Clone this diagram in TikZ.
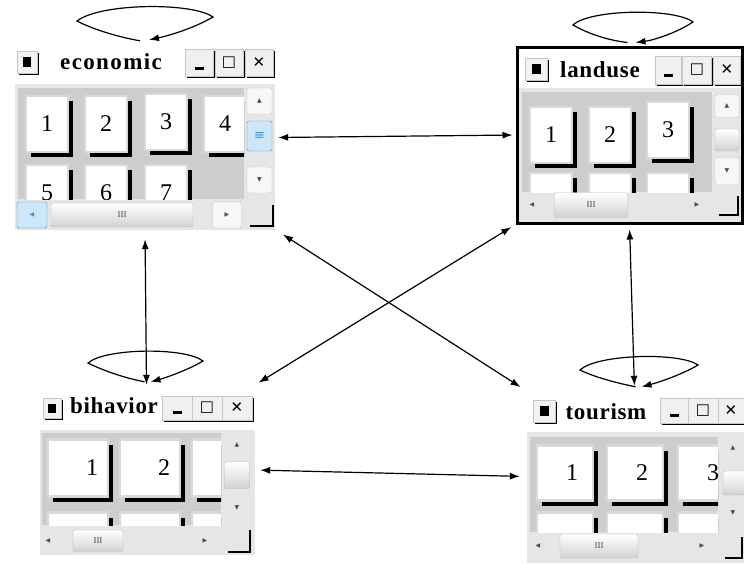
\documentclass[tikz,border=0pt]{standalone}
\usepackage{fontspec}
\setmainfont{Liberation Serif}
\newfontfamily\symfont{DejaVu Sans}
\usetikzlibrary{shadows,arrows.meta}
\definecolor{winbg}{HTML}{E6E6E6}
\definecolor{padbg}{HTML}{CDCDCD}
\definecolor{selfill}{HTML}{CDE7F8}
\definecolor{seldraw}{HTML}{3D8DCA}

\tikzset{
  win/.style={inner sep=0pt},
  wtitle/.style={inner sep=0pt, font=\fontsize{23}{23}\selectfont\bfseries\addfontfeatures{LetterSpace=3}},
  icon/.style={draw=gray!45, fill=gray!10, inner sep=0pt, minimum width=20, minimum height=22,
    general shadow={fill=black, shadow xshift=1.6pt, shadow yshift=-1.6pt}},
  tbtn/.style={draw=gray!45, fill=gray!12, inner sep=0pt, minimum width=28, minimum height=27,
    general shadow={fill=black, shadow xshift=1.6pt, shadow yshift=-1.6pt},
    font=\symfont\fontsize{15}{15}\selectfont},
  key/.style={draw=gray!30, line width=2.5pt, fill=white, inner sep=0pt, minimum width=42, minimum height=56,
    general shadow={fill=black, shadow xshift=5pt, shadow yshift=-5pt},
    font=\fontsize{24}{24}\selectfont},
  bkey/.style={key, minimum width=60, minimum height=57, text width=40, align=right},
  tkey/.style={key, minimum width=56, minimum height=55, text width=26, align=right},
  sbtn/.style={draw=gray!45, fill=gray!6, rounded corners=1.5pt, inner sep=0pt,
    minimum width=25, minimum height=26, font=\symfont\fontsize{6}{6}\selectfont, text=gray!60!black},
  sglyph/.style={inner sep=0pt, font=\symfont\fontsize{6}{6}\selectfont, text=gray!60!black},
  thumb/.style={draw=gray!55, top color=white, bottom color=gray!35, rounded corners=2pt,
    inner sep=0pt, font=\fontsize{9}{9}\selectfont, text=gray!60!black},
  selthumb/.style={draw=seldraw, fill=selfill, rounded corners=1.5pt, inner sep=0pt,
    text=seldraw, font=\symfont\fontsize{13}{13}\selectfont},
  grip/.style={line width=2pt},
  link/.style={{Latex[length=10pt,width=7pt]}-{Latex[length=10pt,width=7pt]}, line width=1.2pt},
  selfloop/.style={-{Latex[length=10pt,width=7pt]}, line width=1.2pt}
}

\begin{document}
\begin{tikzpicture}[x=1pt, y=-1pt]
\useasboundingbox (0,0) rectangle (744,563);

% economic
\node[win, minimum width=262, minimum height=185] (eco) at (145,137.5) {};
\fill[winbg] (15,84) rectangle (275,230);
\node[icon] (ecoIcon) at (27,62) {\rule{9pt}{10pt}};
\node[wtitle, font=\fontsize{23}{23}\selectfont\bfseries\addfontfeatures{LetterSpace=6}] (ecoTitle) at (111,62) {economic};
\node[tbtn] (ecoMin) at (199,63) {\smash{\raisebox{-7pt}{\rule{9pt}{3pt}}}};
\node[tbtn] (ecoMax) at (229,63) {□};
\node[tbtn] (ecoClose) at (259,63) {✕};
\fill[padbg] (18,88) rectangle (244,199);
\begin{scope}
  \clip (18,88) rectangle (244,199);
  \node[key] (eco1) at (47,124) {1};
  \node[key] (eco2) at (106,124) {2};
  \node[key] (eco3) at (166,122) {3};
  \node[key] (eco4) at (225,124) {4};
  \node[key] (eco5) at (47,193) {5};
  \node[key] (eco6) at (106,193) {6};
  \node[key] (eco7) at (166,193) {7};
\end{scope}
\node[sbtn] (ecoUp) at (259.5,101) {▲};
\node[selthumb, minimum width=25, minimum height=30] (ecoThumbV) at (259.5,136) {≡};
\node[sbtn] (ecoDown) at (259.5,180) {▼};
\node[selthumb, minimum width=30, minimum height=26, font=\symfont\fontsize{6}{6}\selectfont] (ecoLeft) at (32,215) {◀};
\node[thumb, minimum width=142, minimum height=24] (ecoThumbH) at (122,215) {III};
\node[sbtn, minimum width=29] (ecoRight) at (227,215) {▶};
\draw[grip] (250,226) -- (273,226) -- (273,205);

% landuse
\fill[white] (517,47) rectangle (742,88);
\fill[winbg] (517,88) rectangle (742,223);
\node[icon, minimum width=22] (landIcon) at (536,69) {\rule{9pt}{10pt}};
\node[wtitle] (landTitle) at (600,70) {landuse};
\node[tbtn, minimum width=26, minimum height=28] (landMin) at (668,70) {\smash{\raisebox{-7pt}{\rule{9pt}{3pt}}}};
\node[tbtn, minimum width=29, minimum height=28] (landMax) at (697,70) {□};
\node[tbtn, minimum width=27, minimum height=28] (landClose) at (727,70) {✕};
\fill[padbg] (522,92) rectangle (712,192);
\begin{scope}
  \clip (522,92) rectangle (712,192);
  \node[key] (land1) at (551,135) {1};
  \node[key] (land2) at (610,135) {2};
  \node[key] (land3) at (668,130) {3};
  \node[key] (land4) at (551,201) {};
  \node[key] (land5) at (610,201) {};
  \node[key] (land6) at (668,201) {};
\end{scope}
\node[sbtn, minimum width=24, minimum height=23] (landUp) at (727,106) {▲};
\node[thumb, minimum width=24, minimum height=22] (landThumbV) at (727,140) {};
\node[sbtn, minimum width=24, minimum height=27] (landDown) at (727,171) {▼};
\node[sglyph] (landLeft) at (532,205) {◀};
\node[thumb, minimum width=73, minimum height=25] (landThumbH) at (591,205) {III};
\node[sglyph] (landRight) at (697,205) {▶};
\draw[grip] (719,215) -- (738,215) -- (738,196);
\node[win, draw, line width=3pt, minimum width=225, minimum height=176] (land) at (629.5,135) {};

% bihavior
\node[win, minimum width=217, minimum height=170] (bih) at (146.5,470) {};
\fill[winbg] (40,430) rectangle (255,555);
\node[icon, minimum width=18, minimum height=20] (bihIcon) at (52,408) {\rule{8pt}{9pt}};
\node[wtitle] (bihTitle) at (114,406) {bihavior};
\node[tbtn, minimum width=30, minimum height=24] (bihMin) at (177,408) {\smash{\raisebox{-6pt}{\rule{9pt}{3pt}}}};
\node[tbtn, minimum width=30, minimum height=24] (bihMax) at (207,408) {□};
\node[tbtn, minimum width=30, minimum height=24] (bihClose) at (237,408) {✕};
\fill[padbg] (42,433) rectangle (221,525);
\begin{scope}
  \clip (42,433) rectangle (221,525);
  \node[bkey] (bih1) at (78,468) {1};
  \node[bkey] (bih2) at (150,468) {2};
  \node[bkey] (bih3) at (222,468) {};
  \node[bkey] (bih4) at (78,541) {};
  \node[bkey] (bih5) at (150,541) {};
  \node[bkey] (bih6) at (222,541) {};
\end{scope}
\node[sglyph] (bihUp) at (237,445) {▲};
\node[thumb, minimum width=25, minimum height=27] (bihThumbV) at (237,475) {};
\node[sglyph] (bihDown) at (237,508) {▼};
\node[sglyph] (bihLeft) at (48,541) {◀};
\node[thumb, minimum width=50, minimum height=22] (bihThumbH) at (98,541) {III};
\node[sglyph] (bihRight) at (205,541) {▶};
\draw[grip] (228,552) -- (250,552) -- (250,530);

% tourism
\node[win, minimum width=219, minimum height=173] (tour) at (634.5,476.5) {};
\fill[winbg] (527,432) rectangle (744,563);
\node[icon, minimum width=22] (tourIcon) at (544,411) {\rule{9pt}{10pt}};
\node[wtitle] (tourTitle) at (606,412) {tourism};
\node[tbtn, minimum width=28, minimum height=25] (tourMin) at (674,411) {\smash{\raisebox{-6pt}{\rule{9pt}{3pt}}}};
\node[tbtn, minimum width=30, minimum height=25] (tourMax) at (703,411) {□};
\node[tbtn, minimum width=26, minimum height=25] (tourClose) at (731,411) {✕};
\fill[padbg] (530,437) rectangle (718,532);
\begin{scope}
  \clip (530,437) rectangle (718,532);
  \node[tkey] (tour1) at (565,473) {1};
  \node[tkey] (tour2) at (635,473) {2};
  \node[tkey] (tour3) at (706,473) {3};
  \node[tkey] (tour4) at (565,540) {};
  \node[tkey] (tour5) at (635,540) {};
  \node[tkey] (tour6) at (706,540) {};
\end{scope}
\node[sglyph] (tourUp) at (733,448) {▲};
\node[thumb, minimum width=22, minimum height=24] (tourThumbV) at (734,483) {};
\node[sglyph] (tourDown) at (733,513) {▼};
\node[sglyph] (tourLeft) at (538,546) {◀};
\node[thumb, minimum width=78, minimum height=24] (tourThumbH) at (599,546) {III};
\node[sglyph] (tourRight) at (702,546) {▶};
\draw[grip] (725,558) -- (742,558) -- (742,537);

% self loops
\draw[selfloop] ([xshift=-5pt,yshift=4pt]eco.north) .. controls (118,37) and (92,29) .. (77,21)
  .. controls (100,3) and (192,2) .. (213,17) .. controls (196,27) and (172,35) .. ([xshift=4pt,yshift=5pt]eco.north);
\draw[selfloop] ([xshift=-2pt,yshift=3pt]land.north) .. controls (605,40) and (585,32) .. (573,25)
  .. controls (590,9) and (675,8) .. (693,22) .. controls (678,32) and (655,40) .. ([xshift=6pt,yshift=3pt]land.north);
\draw[selfloop] ([xshift=-2pt,yshift=3pt]bih.north) .. controls (120,377) and (100,369) .. (88,363)
  .. controls (105,348) and (185,347) .. (203,361) .. controls (188,370) and (165,378) .. ([xshift=4pt,yshift=3pt]bih.north);
\draw[selfloop] ([xshift=1pt,yshift=3pt]tour.north) .. controls (612,382) and (592,376) .. (580,370)
  .. controls (597,354) and (680,352) .. (698,365) .. controls (683,374) and (660,382) .. ([xshift=7pt,yshift=3pt]tour.north);

% links
\draw[link, shorten <=2pt, shorten >=3pt] (eco.east) -- (land.west);
\draw[link, shorten <=9pt] (eco.south) -- (bih.north);
\draw[link, shorten <=5pt, shorten >=4pt] (land.south) -- (tour.north);
\draw[link, shorten <=5pt, shorten >=5pt] (bih.east) -- (tour.west);
\draw[link, shorten <=8pt, shorten >=5pt] (eco.south east) -- (tour.north west);
\draw[link, shorten <=5pt, shorten >=4pt] (land.south west) -- (bih.north east);
\end{tikzpicture}
\end{document}
